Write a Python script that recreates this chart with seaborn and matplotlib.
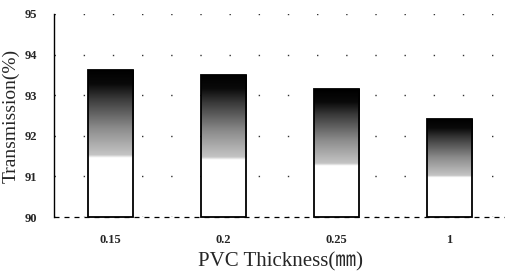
import numpy as np
import pandas as pd
import seaborn as sns
import matplotlib.pyplot as plt
from matplotlib.colors import LinearSegmentedColormap

# data
thickness = ["0.15", "0.2", "0.25", "1"]
transmission = [93.63, 93.5, 93.15, 92.42]
y_base = 90

df = pd.DataFrame({"thickness": thickness, "transmission": transmission})

sns.set_style("white")
plt.rcParams['font.family'] = ['Liberation Serif', 'Noto Sans CJK SC']

fig = plt.figure(figsize=(5.06, 2.74), dpi=100)
ax = fig.add_axes([0.107, 0.208, 0.893, 0.741])

sns.barplot(data=df, x="thickness", y="transmission", color="white",
            edgecolor="black", linewidth=1.3, width=0.4, ax=ax)

# gradient fill: white at the bottom, grey then black near the top
cmap = LinearSegmentedColormap.from_list(
    "fade", [(0, "white"), (0.4, "white"), (0.42, "#c4c4c4"),
             (0.6, "#8c8c8c"), (0.8, "#3a3a3a"), (0.9, "#0a0a0a"), (1, "black")])
grad = np.linspace(0, 1, 256).reshape(-1, 1)
for bar in ax.patches:
    top = bar.get_y() + bar.get_height()
    # bars start at the axis floor, not at zero
    bar.set_y(y_base)
    bar.set_height(top - y_base)
    x0, w = bar.get_x(), bar.get_width()
    im = ax.imshow(grad, cmap=cmap, origin="lower", aspect="auto",
                   extent=[x0, x0 + w, y_base, top], zorder=bar.get_zorder() + 0.1)
    im.set_clip_path(bar)
    bar.set_zorder(bar.get_zorder() + 0.2)
    bar.set_facecolor("none")
    bar.set_clip_on(False)

ax.set_xlim(-0.5, 3.5)
ax.set_ylim(90, 95)

ax.yaxis.grid(True, color="#333333", linestyle=(0, (1, 20)), linewidth=1.0)
ax.set_axisbelow(True)
for s in ["top", "right", "bottom"]:
    ax.spines[s].set_visible(False)
ax.spines["left"].set_color("black")
ax.spines["left"].set_linewidth(1.0)
ax.axhline(90, color="black", linestyle=(0, (4, 4)), linewidth=0.9,
           zorder=0.5, clip_on=False)

ax.tick_params(axis="both", length=0, labelsize=9)
ax.tick_params(axis="y", pad=12)
ax.tick_params(axis="x", pad=12)
for lab in ax.get_yticklabels() + ax.get_xticklabels():
    lab.set_fontweight("bold")

ax.set_xlabel("PVC Thickness(㎜)", fontsize=15, labelpad=5)
ax.set_ylabel("Transmission(%)", fontsize=14, labelpad=4)

fig.savefig("out.png", dpi=100)
